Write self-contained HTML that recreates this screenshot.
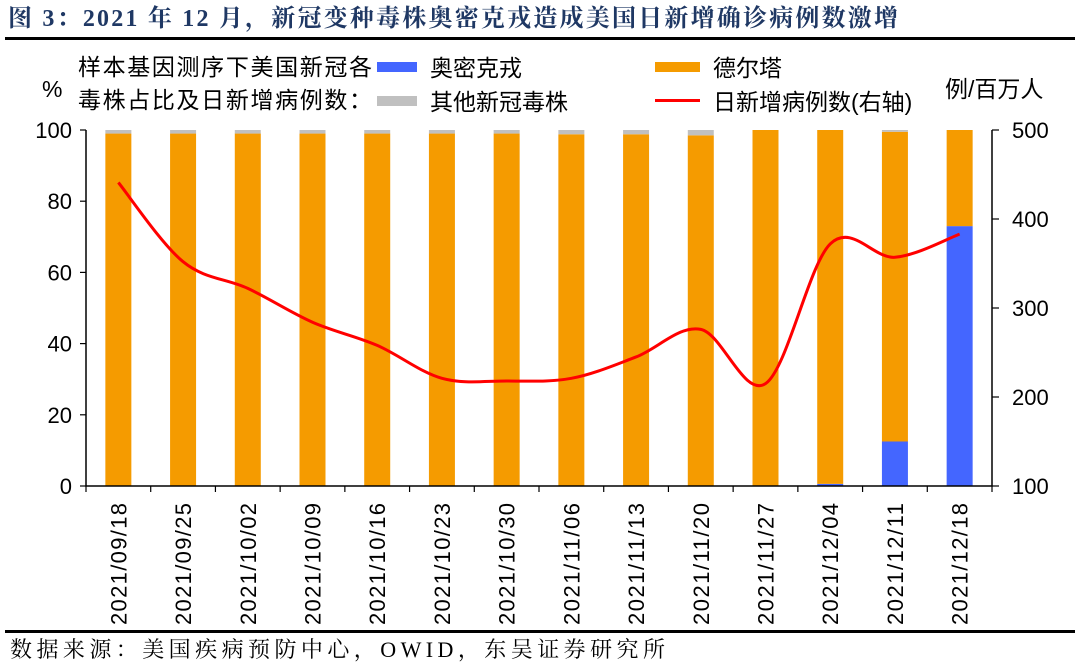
<!DOCTYPE html>
<html><head><meta charset="utf-8">
<style>
html,body{margin:0;padding:0;background:#fff;}
body{width:1080px;height:664px;overflow:hidden;position:relative;font-family:"Liberation Sans","Noto Sans CJK SC",sans-serif;}
</style></head>
<body>
<svg width="1080" height="664" viewBox="0 0 1080 664" xmlns="http://www.w3.org/2000/svg">
<text x="8" y="26" textLength="890" lengthAdjust="spacing" font-family="Liberation Serif,'Noto Serif CJK SC',serif" font-weight="bold" font-size="24" fill="#1f3864">图 3：2021 年 12 月，新冠变种毒株奥密克戎造成美国日新增确诊病例数激增</text>
<rect x="5" y="37" width="1070" height="3" fill="#000"/>
<g font-family="Liberation Sans,'Noto Sans CJK SC',sans-serif" font-size="23" fill="#000">
<text x="78" y="75" textLength="294" lengthAdjust="spacing">样本基因测序下美国新冠各</text>
<text x="78" y="108" textLength="294" lengthAdjust="spacing">毒株占比及日新增病例数：</text>
<text x="42" y="97">%</text>
<text x="945" y="97">例/百万人</text>
<rect x="377" y="62" width="40" height="10" fill="#4466ff"/>
<text x="430" y="76">奥密克戎</text>
<rect x="655" y="62" width="45" height="10" fill="#f59b00"/>
<text x="713" y="76">德尔塔</text>
<rect x="377" y="96" width="40" height="10" fill="#c0c0c0"/>
<text x="430" y="110">其他新冠毒株</text>
<rect x="655" y="99" width="45" height="3" fill="#ff0000"/>
<text x="713" y="110">日新增病例数(右轴)</text>
</g>
<g id="plot"></g>
<rect x="5" y="630" width="1070" height="3" fill="#000"/>
<text x="10" y="657" textLength="655" lengthAdjust="spacing" font-family="Liberation Serif,'Noto Serif CJK SC',serif" font-size="22" fill="#000">数据来源：美国疾病预防中心，OWID，东吴证券研究所</text>
</svg>
<script>
const categories=["2021/09/18","2021/09/25","2021/10/02","2021/10/09","2021/10/16","2021/10/23","2021/10/30","2021/11/06","2021/11/13","2021/11/20","2021/11/27","2021/12/04","2021/12/11","2021/12/18"];
const omicron=[0,0,0,0,0,0,0,0,0,0,0,0.6,12.5,73];
const other=[1,1,1,1,1,1,1,1.2,1.2,1.5,0,0,0.5,0];
const cases=[441,352,322,284,258,221,218,221,245,276,215,372,357,383];
const leftTicks=[0,20,40,60,80,100];
const rightTicks=[100,200,300,400,500];

const NS="http://www.w3.org/2000/svg";
const g=document.getElementById('plot');
const X0=86,X1=992,Y0=486,Y1=130;
const bw=(X1-X0)/categories.length;
const xc=i=>X0+bw*(i+0.5);
const yL=v=>Y0-(v/100)*(Y0-Y1);
const yR=v=>Y0-((v-100)/400)*(Y0-Y1);
function mk(t,a){const e=document.createElementNS(NS,t);for(const k in a)e.setAttribute(k,a[k]);g.appendChild(e);return e;}
categories.forEach((c,i)=>{
  const x=xc(i)-13;
  const delta=100-omicron[i]-other[i];
  let r=mk('rect',{x:x,y:yL(omicron[i]),width:26,height:Y0-yL(omicron[i]),fill:'#4466ff'});
  
  
  r=mk('rect',{x:x,y:yL(omicron[i]+delta),width:26,height:yL(omicron[i])-yL(omicron[i]+delta),fill:'#f59b00'});
  
  
  r=mk('rect',{x:x,y:yL(100),width:26,height:yL(omicron[i]+delta)-yL(100),fill:'#c0c0c0'});
  
  
  const t=mk('text',{x:0,y:0,'font-size':22,'text-anchor':'end',textLength:122,lengthAdjust:'spacing',transform:`translate(${xc(i)+8},503) rotate(-90)`});
  t.textContent=c;
  
  
});
let ax=mk('path',{d:`M${X0} ${Y1}V${Y0}H${X1}V${Y1}`,stroke:'#000','stroke-width':1.5,fill:'none'});


for(let i=0;i<=categories.length;i++){const tk=mk('line',{x1:X0+bw*i,x2:X0+bw*i,y1:Y0,y2:Y0+6,stroke:'#000','stroke-width':1.2});

}
leftTicks.forEach(v=>{const y=yL(v);
 const l=mk('line',{x1:X0-6,x2:X0,y1:y,y2:y,stroke:'#000','stroke-width':1.2});
 
 
 const t=mk('text',{x:X0-14,y:y+8,'font-size':22,'text-anchor':'end'});t.textContent=v;
 
 });
rightTicks.forEach(v=>{const y=yR(v);
 const l=mk('line',{x1:X1,x2:X1+7,y1:y,y2:y,stroke:'#000','stroke-width':1.2});
 
 
 const t=mk('text',{x:X1+20,y:y+8,'font-size':22});t.textContent=v;
 
 });
const pts=cases.map((v,i)=>[xc(i),yR(v)]);
let d=`M${pts[0][0]} ${pts[0][1]}`;
for(let i=0;i<pts.length-1;i++){
 const p0=pts[Math.max(i-1,0)],p1=pts[i],p2=pts[i+1],p3=pts[Math.min(i+2,pts.length-1)];
 const c1=[p1[0]+(p2[0]-p0[0])/6,p1[1]+(p2[1]-p0[1])/6];
 const c2=[p2[0]-(p3[0]-p1[0])/6,p2[1]-(p3[1]-p1[1])/6];
 d+=` C${c1[0]} ${c1[1]} ${c2[0]} ${c2[1]} ${p2[0]} ${p2[1]}`;
}
const ln=mk('path',{d:d,stroke:'#ff0000','stroke-width':3,fill:'none'});


</script>
</body></html>
